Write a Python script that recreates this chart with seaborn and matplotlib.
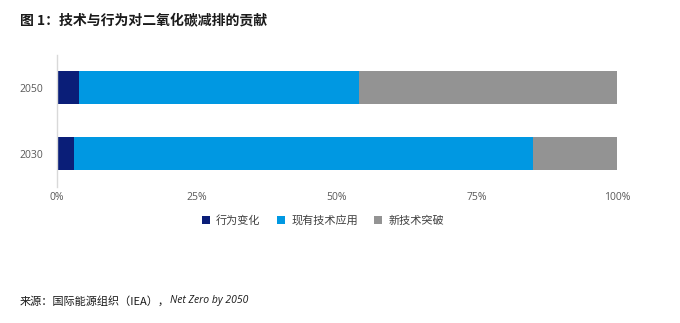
import matplotlib
matplotlib.use("Agg")
import matplotlib.pyplot as plt
import seaborn as sns
import pandas as pd
import numpy as np
from matplotlib.patches import Patch

sns.set_theme(style="white")
plt.rcParams['font.family'] = ['Noto Sans CJK SC', 'DejaVu Sans']

years = ["2050", "2030"]
series_names = ["行为变化", "现有技术应用", "新技术突破"]
behaviour = [4, 3]
existing_tech = [50, 82]
new_tech = [46, 15]
colors = ["#0a1e78", "#0098e2", "#939393"]
xticks = [0, 25, 50, 75, 100]
xtick_labels = ["0%", "25%", "50%", "75%", "100%"]

df = pd.DataFrame({"year": years, "b": behaviour, "e": existing_tech, "n": new_tech})
df["c1"] = df["b"]
df["c2"] = df["b"] + df["e"]
df["c3"] = df["b"] + df["e"] + df["n"]

fig = plt.figure(figsize=(6.8, 3.23), dpi=100)
ax = fig.add_axes([57/680, 1-186.5/323, 560/680, 132/323])

for col, c in zip(["c3", "c2", "c1"], colors[::-1]):
    sns.barplot(data=df, x=col, y="year", orient="h", color=c, width=0.5,
                saturation=1, ax=ax, linewidth=0, order=years)

ax.set_xlim(0, 100)
ax.set_xticks(xticks)
ax.set_xticklabels(xtick_labels, fontsize=7.5, color="#595959", family=["Open Sans", "DejaVu Sans"])
ax.set_yticklabels(years, fontsize=7.5, color="#595959", family=["Open Sans", "DejaVu Sans"])
ax.set_xlabel("")
ax.set_ylabel("")
ax.tick_params(axis="x", length=0, pad=4)
ax.tick_params(axis="y", length=0, pad=10)
for s in ["top", "right", "bottom"]:
    ax.spines[s].set_visible(False)
ax.spines["left"].set_color("#d9d9d9")
ax.spines["left"].set_linewidth(1)

handles = [Patch(facecolor=c, edgecolor="none") for c in colors]
fig.legend(handles, series_names, loc="center", bbox_to_anchor=(323/680, 1-220.5/323),
           ncol=3, frameon=False, fontsize=8, handlelength=0.7, handleheight=0.7,
           handletextpad=0.6, columnspacing=1.45, labelcolor="#404040")

fig.text(20/680, 1-21/323, "图 1：技术与行为对二氧化碳减排的贡献", fontsize=10,
         fontweight="bold", va="center", ha="left", color="#1a1a1a")
fig.text(20/680, 1-301/323, "来源：国际能源组织（IEA），", fontsize=8,
         va="center", ha="left", color="#1a1a1a")
fig.text(170/680, 1-301/323, "Net Zero by 2050", fontsize=7.5, style="italic",
         va="center", ha="left", color="#1a1a1a", family=["Open Sans", "DejaVu Sans"])

fig.savefig("out.png", dpi=100)
